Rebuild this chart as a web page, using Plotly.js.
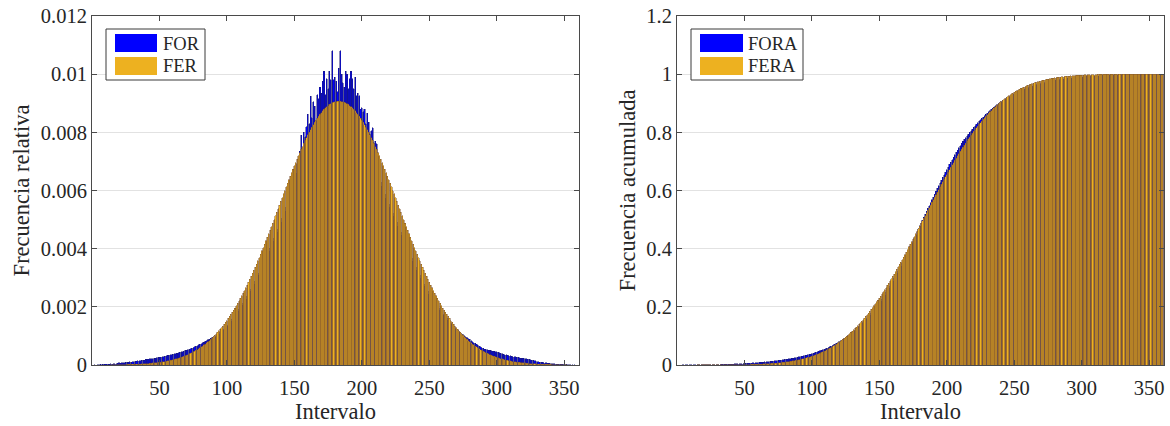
<!DOCTYPE html>
<html>
<head>
<meta charset="utf-8">
<script src="https://cdn.plot.ly/plotly-3.0.1.min.js"></script>
<style>
html,body{margin:0;padding:0;background:#fff;}
#chart{width:1170px;height:426px;}
#chart .barlayer path{shape-rendering:crispEdges !important;}
</style>
</head>
<body>
<div id="chart"></div>
<script>
// Interval index (x categories)
const intervalos = Array.from({length: 360}, (_, k) => k + 1);

// FOR: frecuencia observada relativa
const FOR = [
0,1e-5,0,1e-5,1e-5,2e-5,1e-5,2e-5,2e-5,3e-5,
2e-5,3e-5,3e-5,4e-5,3e-5,4e-5,5e-5,5e-5,6e-5,7e-5,
6e-5,7e-5,8e-5,8e-5,9e-5,9e-5,10e-5,11e-5,10e-5,12e-5,
12e-5,13e-5,13e-5,14e-5,15e-5,15e-5,16e-5,17e-5,17e-5,19e-5,
19e-5,20e-5,21e-5,22e-5,22e-5,23e-5,24e-5,25e-5,26e-5,27e-5,
27e-5,28e-5,29e-5,30e-5,31e-5,33e-5,33e-5,35e-5,36e-5,37e-5,
38e-5,39e-5,41e-5,42e-5,43e-5,45e-5,46e-5,48e-5,50e-5,51e-5,
53e-5,55e-5,56e-5,58e-5,60e-5,62e-5,64e-5,66e-5,69e-5,71e-5,
73e-5,76e-5,78e-5,81e-5,84e-5,86e-5,89e-5,92e-5,95e-5,98e-5,
96e-5,100e-5,104e-5,107e-5,112e-5,115e-5,120e-5,124e-5,130e-5,134e-5,
139e-5,145e-5,151e-5,157e-5,164e-5,170e-5,177e-5,184e-5,192e-5,199e-5,
205e-5,212e-5,220e-5,228e-5,236e-5,245e-5,254e-5,262e-5,271e-5,280e-5,
289e-5,298e-5,308e-5,317e-5,328e-5,337e-5,347e-5,357e-5,367e-5,378e-5,
392e-5,404e-5,414e-5,425e-5,435e-5,446e-5,457e-5,468e-5,479e-5,490e-5,
506e-5,518e-5,530e-5,545e-5,558e-5,572e-5,586e-5,600e-5,615e-5,630e-5,
660e-5,690e-5,705e-5,735e-5,790e-5,745e-5,800e-5,785e-5,820e-5,862e-5,
830e-5,924e-5,850e-5,905e-5,890e-5,840e-5,930e-5,915e-5,955e-5,935e-5,
975e-5,1010e-5,930e-5,985e-5,950e-5,1010e-5,980e-5,1080e-5,980e-5,990e-5,
975e-5,940e-5,1020e-5,1080e-5,1000e-5,970e-5,955e-5,1010e-5,1000e-5,950e-5,
985e-5,1010e-5,985e-5,950e-5,990e-5,925e-5,935e-5,925e-5,880e-5,885e-5,
870e-5,880e-5,830e-5,865e-5,835e-5,795e-5,805e-5,815e-5,765e-5,770e-5,
760e-5,700e-5,660e-5,630e-5,615e-5,600e-5,588e-5,575e-5,565e-5,552e-5,
544e-5,533e-5,522e-5,512e-5,500e-5,490e-5,479e-5,468e-5,457e-5,446e-5,
430e-5,420e-5,409e-5,399e-5,388e-5,378e-5,367e-5,357e-5,347e-5,337e-5,
328e-5,317e-5,308e-5,298e-5,289e-5,280e-5,271e-5,262e-5,254e-5,245e-5,
239e-5,231e-5,223e-5,216e-5,209e-5,202e-5,196e-5,189e-5,183e-5,177e-5,
172e-5,166e-5,160e-5,155e-5,150e-5,145e-5,140e-5,135e-5,130e-5,125e-5,
121e-5,116e-5,112e-5,108e-5,104e-5,100e-5,97e-5,94e-5,91e-5,88e-5,
84e-5,80e-5,77e-5,74e-5,71e-5,68e-5,65e-5,62e-5,60e-5,57e-5,
55e-5,54e-5,52e-5,51e-5,50e-5,49e-5,48e-5,47e-5,46e-5,45e-5,
43e-5,42e-5,40e-5,39e-5,37e-5,36e-5,35e-5,33e-5,32e-5,31e-5,
30e-5,29e-5,28e-5,28e-5,27e-5,26e-5,25e-5,24e-5,24e-5,23e-5,
22e-5,21e-5,20e-5,19e-5,18e-5,17e-5,16e-5,15e-5,14e-5,12e-5,
11e-5,10e-5,10e-5,9e-5,8e-5,7e-5,7e-5,6e-5,6e-5,5e-5,
5e-5,4e-5,4e-5,3e-5,3e-5,3e-5,2e-5,2e-5,2e-5,2e-5,
1e-5,2e-5,1e-5,1e-5,1e-5,1e-5,0,1e-5,0,0
];

// FER: frecuencia esperada relativa
const FER = [
0,0,0,0,0,0,0,0,0,0,
0,0,0,1e-5,1e-5,1e-5,1e-5,1e-5,1e-5,1e-5,
1e-5,1e-5,1e-5,1e-5,1e-5,2e-5,2e-5,2e-5,2e-5,2e-5,
2e-5,3e-5,3e-5,3e-5,3e-5,3e-5,4e-5,4e-5,4e-5,5e-5,
5e-5,5e-5,6e-5,6e-5,7e-5,7e-5,8e-5,8e-5,9e-5,10e-5,
10e-5,11e-5,12e-5,12e-5,13e-5,14e-5,15e-5,16e-5,17e-5,18e-5,
19e-5,21e-5,22e-5,23e-5,25e-5,26e-5,28e-5,30e-5,32e-5,34e-5,
36e-5,38e-5,40e-5,42e-5,45e-5,47e-5,50e-5,53e-5,56e-5,59e-5,
62e-5,65e-5,69e-5,72e-5,76e-5,80e-5,84e-5,88e-5,93e-5,97e-5,
102e-5,107e-5,112e-5,117e-5,123e-5,128e-5,134e-5,140e-5,147e-5,153e-5,
160e-5,167e-5,174e-5,181e-5,189e-5,196e-5,204e-5,212e-5,221e-5,229e-5,
238e-5,247e-5,256e-5,265e-5,275e-5,285e-5,295e-5,305e-5,315e-5,326e-5,
336e-5,347e-5,358e-5,369e-5,381e-5,392e-5,404e-5,415e-5,427e-5,439e-5,
451e-5,464e-5,476e-5,488e-5,500e-5,513e-5,525e-5,538e-5,550e-5,563e-5,
575e-5,588e-5,600e-5,613e-5,625e-5,637e-5,649e-5,661e-5,673e-5,685e-5,
696e-5,708e-5,719e-5,730e-5,741e-5,751e-5,762e-5,772e-5,782e-5,791e-5,
800e-5,809e-5,818e-5,826e-5,834e-5,842e-5,849e-5,856e-5,862e-5,868e-5,
874e-5,879e-5,884e-5,888e-5,892e-5,896e-5,899e-5,901e-5,903e-5,905e-5,
906e-5,907e-5,907e-5,907e-5,906e-5,905e-5,903e-5,901e-5,899e-5,896e-5,
892e-5,888e-5,884e-5,879e-5,874e-5,868e-5,862e-5,856e-5,849e-5,842e-5,
834e-5,826e-5,818e-5,809e-5,800e-5,791e-5,782e-5,772e-5,762e-5,751e-5,
741e-5,730e-5,719e-5,708e-5,696e-5,685e-5,673e-5,661e-5,649e-5,637e-5,
625e-5,613e-5,600e-5,588e-5,575e-5,563e-5,550e-5,538e-5,525e-5,513e-5,
500e-5,488e-5,476e-5,464e-5,451e-5,439e-5,427e-5,415e-5,404e-5,392e-5,
381e-5,369e-5,358e-5,347e-5,336e-5,326e-5,315e-5,305e-5,295e-5,285e-5,
275e-5,265e-5,256e-5,247e-5,238e-5,229e-5,221e-5,212e-5,204e-5,196e-5,
189e-5,181e-5,174e-5,167e-5,160e-5,153e-5,147e-5,140e-5,134e-5,128e-5,
123e-5,117e-5,112e-5,107e-5,102e-5,97e-5,93e-5,88e-5,84e-5,80e-5,
76e-5,72e-5,69e-5,65e-5,62e-5,59e-5,56e-5,53e-5,50e-5,47e-5,
45e-5,42e-5,40e-5,38e-5,36e-5,34e-5,32e-5,30e-5,28e-5,26e-5,
25e-5,23e-5,22e-5,21e-5,19e-5,18e-5,17e-5,16e-5,15e-5,14e-5,
13e-5,12e-5,12e-5,11e-5,10e-5,10e-5,9e-5,8e-5,8e-5,7e-5,
7e-5,6e-5,6e-5,5e-5,5e-5,5e-5,4e-5,4e-5,4e-5,3e-5,
3e-5,3e-5,3e-5,3e-5,2e-5,2e-5,2e-5,2e-5,2e-5,2e-5,
1e-5,1e-5,1e-5,1e-5,1e-5,1e-5,1e-5,1e-5,1e-5,1e-5,
1e-5,1e-5,0,0,0,0,0,0,0,0
];

// FORA: frecuencia observada relativa acumulada
const FORA = [
0,0.00001,0.00001,0.00002,0.00003,0.00005,0.00006,0.00008,0.00010,0.00013,
0.00015,0.00018,0.00021,0.00025,0.00028,0.00032,0.00037,0.00042,0.00048,0.00055,
0.00061,0.00068,0.00076,0.00084,0.00093,0.00102,0.00112,0.00123,0.00133,0.00145,
0.00157,0.00170,0.00183,0.00197,0.00212,0.00227,0.00243,0.00260,0.00277,0.00296,
0.00315,0.00335,0.00356,0.00378,0.00400,0.00423,0.00447,0.00472,0.00498,0.00525,
0.00552,0.00580,0.00609,0.00639,0.00670,0.00703,0.00736,0.00771,0.00807,0.00844,
0.00882,0.00921,0.00962,0.01004,0.01047,0.01092,0.01138,0.01186,0.01236,0.01287,
0.01340,0.01395,0.01451,0.01509,0.01569,0.01631,0.01695,0.01761,0.01830,0.01901,
0.01974,0.02050,0.02128,0.02209,0.02293,0.02379,0.02468,0.02560,0.02655,0.02753,
0.02849,0.02949,0.03053,0.03160,0.03272,0.03387,0.03507,0.03631,0.03761,0.03895,
0.04034,0.04179,0.04330,0.04487,0.04651,0.04821,0.04998,0.05182,0.05374,0.05573,
0.05778,0.05990,0.06210,0.06438,0.06674,0.06919,0.07173,0.07435,0.07706,0.07986,
0.08275,0.08573,0.08881,0.09198,0.09526,0.09863,0.10210,0.10567,0.10934,0.11312,
0.11704,0.12108,0.12522,0.12947,0.13382,0.13828,0.14285,0.14753,0.15232,0.15722,
0.16228,0.16746,0.17276,0.17821,0.18379,0.18951,0.19537,0.20137,0.20752,0.21382,
0.22042,0.22732,0.23437,0.24172,0.24962,0.25707,0.26507,0.27292,0.28112,0.28974,
0.29804,0.30728,0.31578,0.32483,0.33373,0.34213,0.35143,0.36058,0.37013,0.37948,
0.38923,0.39933,0.40863,0.41848,0.42798,0.43808,0.44788,0.45868,0.46848,0.47838,
0.48813,0.49753,0.50773,0.51853,0.52853,0.53823,0.54778,0.55788,0.56788,0.57738,
0.58723,0.59733,0.60718,0.61668,0.62658,0.63583,0.64518,0.65443,0.66323,0.67208,
0.68078,0.68958,0.69788,0.70653,0.71488,0.72283,0.73088,0.73903,0.74668,0.75438,
0.76198,0.76898,0.77558,0.78188,0.78803,0.79403,0.79991,0.80566,0.81131,0.81683,
0.82227,0.82760,0.83282,0.83794,0.84294,0.84784,0.85263,0.85731,0.86188,0.86634,
0.87064,0.87484,0.87893,0.88292,0.88680,0.89058,0.89425,0.89782,0.90129,0.90466,
0.90794,0.91111,0.91419,0.91717,0.92006,0.92286,0.92557,0.92819,0.93073,0.93318,
0.93557,0.93788,0.94011,0.94227,0.94436,0.94638,0.94834,0.95023,0.95206,0.95383,
0.95555,0.95721,0.95881,0.96036,0.96186,0.96331,0.96471,0.96606,0.96736,0.96861,
0.96982,0.97098,0.97210,0.97318,0.97422,0.97522,0.97619,0.97713,0.97804,0.97892,
0.97976,0.98056,0.98133,0.98207,0.98278,0.98346,0.98411,0.98473,0.98533,0.98590,
0.98645,0.98699,0.98751,0.98802,0.98852,0.98901,0.98949,0.98996,0.99042,0.99087,
0.99130,0.99172,0.99212,0.99251,0.99288,0.99324,0.99359,0.99392,0.99424,0.99455,
0.99485,0.99514,0.99542,0.99570,0.99597,0.99623,0.99648,0.99672,0.99696,0.99719,
0.99741,0.99762,0.99782,0.99801,0.99819,0.99836,0.99852,0.99867,0.99881,0.99893,
0.99904,0.99914,0.99924,0.99933,0.99941,0.99948,0.99955,0.99961,0.99967,0.99972,
0.99977,0.99981,0.99985,0.99988,0.99991,0.99994,0.99996,0.99998,1.00000,1.00000,
1.00000,1.00000,1.00000,1.00000,1.00000,1.00000,1.00000,1.00000,1.00000,1.00000
];

// FERA: frecuencia esperada relativa acumulada
const FERA = [
0,0,0,0,0,0,0,0,0,0,
0,0,0,0.00001,0.00002,0.00003,0.00004,0.00005,0.00006,0.00007,
0.00008,0.00009,0.00010,0.00011,0.00012,0.00014,0.00016,0.00018,0.00020,0.00022,
0.00024,0.00027,0.00030,0.00033,0.00036,0.00039,0.00043,0.00047,0.00051,0.00056,
0.00061,0.00066,0.00072,0.00078,0.00085,0.00092,0.00100,0.00108,0.00117,0.00127,
0.00137,0.00148,0.00160,0.00172,0.00185,0.00199,0.00214,0.00230,0.00247,0.00265,
0.00284,0.00305,0.00327,0.00350,0.00375,0.00401,0.00429,0.00459,0.00491,0.00525,
0.00561,0.00599,0.00639,0.00681,0.00726,0.00773,0.00823,0.00876,0.00932,0.00991,
0.01053,0.01118,0.01187,0.01259,0.01335,0.01415,0.01499,0.01587,0.01680,0.01777,
0.01879,0.01986,0.02098,0.02215,0.02338,0.02466,0.02600,0.02740,0.02887,0.03040,
0.03200,0.03367,0.03541,0.03722,0.03911,0.04107,0.04311,0.04523,0.04744,0.04973,
0.05211,0.05458,0.05714,0.05979,0.06254,0.06539,0.06834,0.07139,0.07454,0.07780,
0.08116,0.08463,0.08821,0.09190,0.09571,0.09963,0.10367,0.10782,0.11209,0.11648,
0.12099,0.12563,0.13039,0.13527,0.14027,0.14540,0.15065,0.15603,0.16153,0.16716,
0.17291,0.17879,0.18479,0.19092,0.19717,0.20354,0.21003,0.21664,0.22337,0.23022,
0.23718,0.24426,0.25145,0.25875,0.26616,0.27367,0.28129,0.28901,0.29683,0.30474,
0.31274,0.32083,0.32901,0.33727,0.34561,0.35403,0.36252,0.37108,0.37970,0.38838,
0.39712,0.40591,0.41475,0.42363,0.43255,0.44151,0.45050,0.45951,0.46854,0.47759,
0.48665,0.49572,0.50479,0.51386,0.52292,0.53197,0.54100,0.55001,0.55900,0.56796,
0.57688,0.58576,0.59460,0.60339,0.61213,0.62081,0.62943,0.63799,0.64648,0.65490,
0.66324,0.67150,0.67968,0.68777,0.69577,0.70368,0.71150,0.71922,0.72684,0.73435,
0.74176,0.74906,0.75625,0.76333,0.77029,0.77714,0.78387,0.79048,0.79697,0.80334,
0.80959,0.81572,0.82172,0.82760,0.83335,0.83898,0.84448,0.84986,0.85511,0.86024,
0.86524,0.87012,0.87488,0.87952,0.88403,0.88842,0.89269,0.89684,0.90088,0.90480,
0.90861,0.91230,0.91588,0.91935,0.92271,0.92597,0.92912,0.93217,0.93512,0.93797,
0.94072,0.94337,0.94593,0.94840,0.95078,0.95307,0.95528,0.95740,0.95944,0.96140,
0.96329,0.96510,0.96684,0.96851,0.97011,0.97164,0.97311,0.97451,0.97585,0.97713,
0.97836,0.97953,0.98065,0.98172,0.98274,0.98371,0.98464,0.98552,0.98636,0.98716,
0.98792,0.98864,0.98933,0.98998,0.99060,0.99119,0.99175,0.99228,0.99278,0.99325,
0.99370,0.99412,0.99452,0.99490,0.99526,0.99560,0.99592,0.99622,0.99650,0.99676,
0.99701,0.99724,0.99746,0.99767,0.99786,0.99804,0.99821,0.99837,0.99852,0.99866,
0.99879,0.99891,0.99903,0.99914,0.99924,0.99934,0.99943,0.99951,0.99959,0.99966,
0.99973,0.99979,0.99985,0.99990,0.99995,0.99997,0.99998,0.99998,0.99999,0.99999,
0.99999,0.99999,0.99999,0.99999,1.00000,1.00000,1.00000,1.00000,1.00000,1.00000,
1.00000,1.00000,1.00000,1.00000,1.00000,1.00000,1.00000,1.00000,1.00000,1.00000,
1.00000,1.00000,1.00000,1.00000,1.00000,1.00000,1.00000,1.00000,1.00000,1.00000
];

const xTicks = [50, 100, 150, 200, 250, 300, 350];
const yTicksRel = [0, 0.002, 0.004, 0.006, 0.008, 0.01, 0.012];
const yTicksAcc = [0, 0.2, 0.4, 0.6, 0.8, 1, 1.2];

const BLUE = '#0000ff';
const ORANGE = '#EDB120';
const FONT = '"Liberation Serif", "Times New Roman", serif';
const TXT = '#262626';
const AX = '#4a4a4a';

function bars(y, name, color, edge, lw, xa, ya) {
  return {
    type: 'bar', x: intervalos, y: y, name: name,
    xaxis: xa, yaxis: ya, width: 0.8,
    marker: {color: color, line: {color: edge, width: lw}},
    hoverinfo: 'x+y+name'
  };
}

const data = [
  bars(FOR, 'FOR', BLUE, '#1a1a70', 0.5, 'x', 'y'),
  bars(FER, 'FER', ORANGE, '#80532c', 0.5, 'x', 'y'),
  bars(FORA, 'FORA', BLUE, '#1a1a70', 0.5, 'x2', 'y2'),
  bars(FERA, 'FERA', ORANGE, '#80532c', 0.5, 'x2', 'y2')
];

function xaxisDef(domain, anchor) {
  return {
    domain: domain, anchor: anchor, range: [0, 361],
    tickmode: 'array', tickvals: xTicks,
    ticks: 'inside', ticklen: 5, tickcolor: AX, tickwidth: 1,
    mirror: 'allticks', showline: true, linecolor: AX, linewidth: 1,
    showgrid: false, zeroline: false, ticklabelstandoff: 4,
    tickfont: {family: FONT, size: 20.5, color: TXT},
    title: {text: 'Intervalo', font: {family: FONT, size: 22.5, color: TXT}, standoff: 4},
    automargin: false
  };
}
function yaxisDef(range, ticks, title, anchor) {
  return {
    domain: [0, 1], anchor: anchor, range: range,
    tickmode: 'array', tickvals: ticks,
    ticks: 'inside', ticklen: 5, tickcolor: AX, tickwidth: 1,
    mirror: 'allticks', showline: true, linecolor: AX, linewidth: 1,
    showgrid: true, gridcolor: '#e2e2e2', gridwidth: 1, zeroline: false,
    tickfont: {family: FONT, size: 20.5, color: TXT},
    title: {text: title, font: {family: FONT, size: 22.5, color: TXT}, standoff: 4},
    automargin: false
  };
}

// legend (drawn as boxes + text, MATLAB style)
const W = 1072, H = 349;
function px(xp) { return (xp - 92) / W; }
function py(yp) { return (365 - yp) / H; }

function legendShapes(bx0, bx1, sx0, sx1) {
  return [
    {type: 'rect', xref: 'paper', yref: 'paper', x0: px(bx0), x1: px(bx1), y0: py(80), y1: py(29),
     fillcolor: '#ffffff', line: {color: '#3a3a3a', width: 1}, layer: 'above'},
    {type: 'rect', xref: 'paper', yref: 'paper', x0: px(sx0), x1: px(sx1), y0: py(52), y1: py(34),
     fillcolor: BLUE, line: {width: 0}, layer: 'above'},
    {type: 'rect', xref: 'paper', yref: 'paper', x0: px(sx0), x1: px(sx1), y0: py(75), y1: py(57),
     fillcolor: ORANGE, line: {width: 0}, layer: 'above'}
  ];
}
function legendText(tx, t1, t2) {
  return [
    {xref: 'paper', yref: 'paper', x: px(tx), y: py(44), xanchor: 'left', yanchor: 'middle',
     text: t1, showarrow: false, font: {family: FONT, size: 18.5, color: TXT}},
    {xref: 'paper', yref: 'paper', x: px(tx), y: py(66), xanchor: 'left', yanchor: 'middle',
     text: t2, showarrow: false, font: {family: FONT, size: 18.5, color: TXT}}
  ];
}

const layout = {
  width: 1170, height: 426,
  margin: {l: 92, r: 6, t: 16, b: 61, pad: 0},
  paper_bgcolor: '#ffffff', plot_bgcolor: '#ffffff',
  font: {family: FONT, color: TXT, size: 20},
  barmode: 'overlay', bargap: 0.2,
  showlegend: false,
  xaxis: xaxisDef([0, 487 / W], 'y'),
  yaxis: yaxisDef([0, 0.012], yTicksRel, 'Frecuencia relativa', 'x'),
  xaxis2: xaxisDef([585 / W, 1], 'y2'),
  yaxis2: yaxisDef([0, 1.2], yTicksAcc, 'Frecuencia acumulada', 'x2'),
  shapes: legendShapes(106, 205, 115, 157).concat(legendShapes(691, 803, 700, 743)),
  annotations: legendText(161, 'FOR', 'FER').concat(legendText(746, 'FORA', 'FERA'))
};

Plotly.newPlot('chart', data, layout, {displayModeBar: false, staticPlot: true});
</script>
</body>
</html>
